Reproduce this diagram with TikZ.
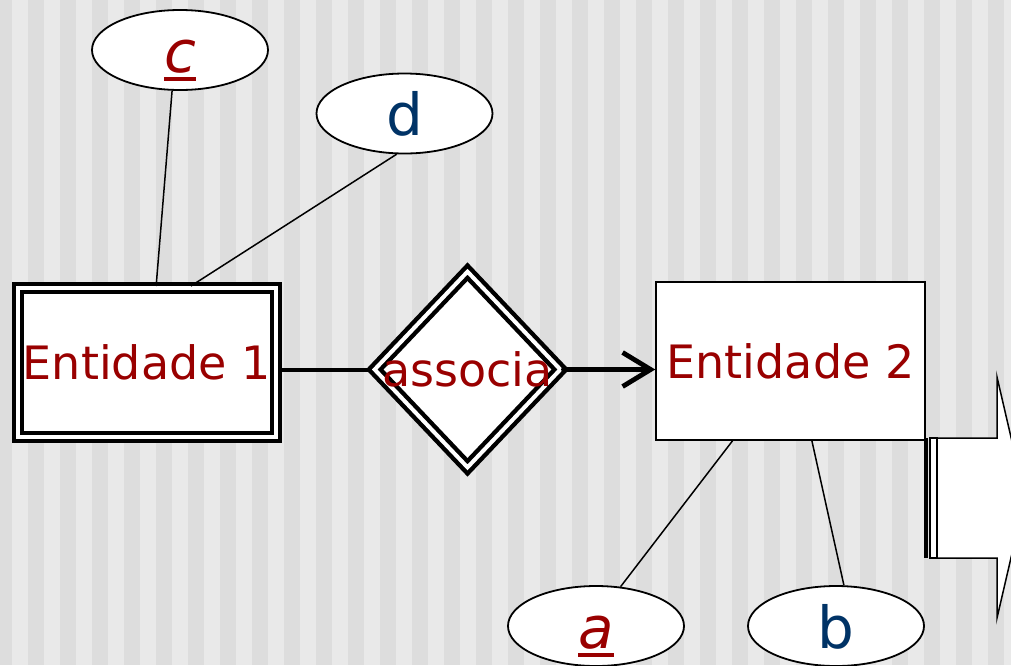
\documentclass[tikz,border=0pt]{standalone}
\usepackage{fontspec}
\setmainfont{DejaVu Sans}
\usetikzlibrary{shapes.geometric, arrows.meta, positioning, calc}
\definecolor{tituloRed}{HTML}{990000}
\definecolor{atribBlue}{HTML}{003366}
\definecolor{faixaClara}{HTML}{E9E9E9}
\definecolor{faixaEscura}{HTML}{DDDDDD}
\newcommand{\chave}[1]{\setbox0=\hbox{\itshape #1}\rlap{\copy0}\rule[-4.5pt]{\wd0}{1.8pt}}

\begin{document}
\begin{tikzpicture}[
    x=0.5pt, y=-0.5pt,
    entidade/.style={rectangle, draw, fill=white, line width=0.75pt, minimum width=134.5pt, minimum height=79pt, inner sep=0pt, text=tituloRed, font=\fontsize{23}{27}\selectfont},
    fraca/.style={entidade, line width=2pt, double=white, double distance=2pt, minimum width=128.75pt, minimum height=74.5pt},
    relacao/.style={diamond, draw, fill=white, line width=2.2pt, double=white, double distance=2pt, minimum width=93.75pt, minimum height=98.75pt, inner sep=0pt},
    rotulo/.style={inner sep=0pt, text=tituloRed, font=\fontsize{23}{27}\selectfont},
    atrib/.style={ellipse, draw, fill=white, line width=0.9pt, minimum width=88pt, minimum height=40pt, inner sep=0pt, text height=22pt, text depth=0pt, font=\fontsize{29}{33}\selectfont},
    chaveAtrib/.style={atrib, text=tituloRed},
    simples/.style={atrib, text=atribBlue},
    ligacao/.style={line width=0.75pt},
    total/.style={line width=2pt},
    seta/.style={-{Straight Barb[length=14pt, width=17pt]}, line width=2.4pt, line cap=round}
]
    \useasboundingbox (0,0) rectangle (1011,665);
    \clip (0,0) rectangle (1011,665);

    % Background stripes
    \fill[faixaClara] (0,0) rectangle (1011,665);
    \foreach \xa in {-4,28,...,1010}
        \fill[faixaEscura] (\xa,0) rectangle ++(16,665);

    % Entities and relationship
    \node[fraca] (ent1) at (146.75,362.5) {Entidade 1};
    \node[relacao] (assoc) at (467.5,369.5) {};
    \node[rotulo] (assocTxt) at (assoc) {associa};
    \node[entidade] (ent2) at (790.5,361) {Entidade 2};

    % Attributes
    \node[chaveAtrib] (attC) at (180,50) {\chave{c}};
    \node[simples] (attD) at (404.5,113.5) {d};
    \node[chaveAtrib] (attA) at (596,626) {\chave{a}};
    \node[simples] (attB) at (836,626) {b};

    % Connectors
    \draw[total] (assoc.west) -- (assoc.west -| ent1.east);
    \draw[seta] (assoc.east) -- (assoc.east -| ent2.west);
    \draw[ligacao] (attC.259) -- (ent1.83);
    \draw[ligacao] (attD.259) -- (ent1.60);
    \draw[ligacao] (attA.58) -- (ent2.234);
    \draw[ligacao] (attB.79) -- (ent2.285);

    % Striped arrow on the right
    \fill (923.5,438) rectangle (927.5,558);
    \draw[line width=0.75pt, fill=white] (930,438) rectangle (937,558);
    \draw[line width=0.75pt, fill=white] (937,438) -- (997,438) -- (997,377) -- (1025,497.5) -- (997,618) -- (997,558) -- (937,558) -- cycle;
\end{tikzpicture}
\end{document}
